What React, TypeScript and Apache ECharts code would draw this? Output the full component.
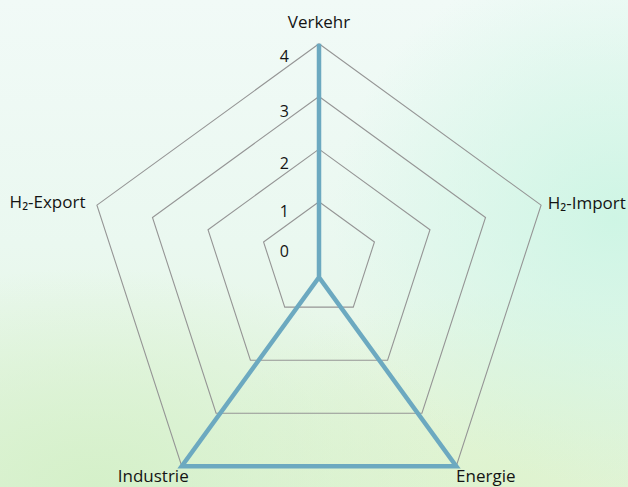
import React, { useEffect, useRef } from 'react';
import * as echarts from 'echarts';

// Indicators listed in the order ECharts lays them out (top, then counter-clockwise)
const indicatorNames = ['Verkehr', 'H₂-Export', 'Industrie', 'Energie', 'H₂-Import'];
const seriesValues = [4, 0, 4, 4, 0];
const axisMax = 4;
const ringValues = [1, 2, 3, 4];
const tickLabels = ['0', '1', '2', '3', '4'];

const FONT = '"Open Sans", Lato, sans-serif';
const CX = 319;
const ringCenterY = (v: number) => 260 + 5.77 * (v - 1);
const ringRadius = (v: number) => 58.3 + 58.4 * (v - 1);

// vertical nudges (px) of the tick labels, index = tick value
const tickNudge = [-5, 4, 5, 2, -4];

const nameStyles: Record<string, any> = {
  Verkehr: { nameGap: 14 },
  'H₂-Export': { nameGap: 12 },
  'H₂-Import': { nameGap: 7 },
  Industrie: { nameGap: 12, nameTextStyle: { align: 'center', padding: [8, 43, 0, 0] } },
  Energie: { nameGap: 12, nameTextStyle: { align: 'center', padding: [8, 0, 0, 45] } },
};

export default function App() {
  const ref = useRef<HTMLDivElement>(null);
  useEffect(() => {
    if (!ref.current) return;
    const chart = echarts.init(ref.current, null, { renderer: 'svg' });

    const ringRadars = ringValues.map((v) => ({
      center: [CX, ringCenterY(v)],
      radius: ringRadius(v),
      startAngle: 90,
      shape: 'polygon',
      splitNumber: 1,
      indicator: indicatorNames.map((n) => ({
        name: n,
        max: v,
        ...(v === axisMax ? nameStyles[n] : {}),
      })),
      axisName: {
        show: v === axisMax,
        color: '#141414',
        fontFamily: FONT,
        fontSize: 17,
        fontWeight: 500,
      },
      splitLine: { show: true, lineStyle: { color: '#959595', width: 1.1 } },
      splitArea: { show: false },
      axisLine: { show: false },
      axisTick: { show: false },
      axisLabel: { show: false },
    }));

    const rich: Record<string, any> = {};
    tickLabels.forEach((_, i) => {
      const d = tickNudge[i];
      rich['t' + i] = {
        color: '#141414',
        fontFamily: FONT,
        fontSize: 16,
        fontWeight: 500,
        padding: d >= 0 ? [2 * d, 0, 0, 0] : [0, 0, -2 * d, 0],
      };
    });

    const labelRadar = {
      center: [CX, 255.8],
      radius: 196.2,
      startAngle: 90,
      shape: 'polygon',
      splitNumber: tickLabels.length - 1,
      indicator: indicatorNames.map((n, i) => ({
        name: n,
        min: 0,
        max: axisMax,
        axisLabel: i === 0
          ? {
              show: true,
              margin: 30,
              color: '#141414',
              fontFamily: FONT,
              fontSize: 16,
              fontWeight: 500,
              formatter: (val: number) => {
                const k = Math.round(val);
                return `{t${k}|${tickLabels[k] ?? String(val)}}`;
              },
              rich,
            }
          : { show: false },
      })),
      axisName: { show: false },
      splitLine: { show: false },
      splitArea: { show: false },
      axisLine: { show: false },
      axisTick: { show: false },
      axisLabel: { show: false },
    };

    chart.setOption({
      animation: false,
      backgroundColor: 'transparent',
      textStyle: { fontFamily: FONT },
      radar: [...ringRadars, labelRadar],
      series: [
        {
          type: 'radar',
          radarIndex: ringValues.length - 1,
          symbol: 'none',
          silent: true,
          lineStyle: { color: '#6ca9c0', width: 4.5, join: 'miter' },
          data: [{ value: seriesValues, name: 'Werte' }],
        },
      ],
    });
    return () => chart.dispose();
  }, []);

  return (
    <div
      ref={ref}
      style={{
        position: 'fixed',
        left: 0,
        top: 0,
        width: 628,
        height: 487,
        background:
          'radial-gradient(ellipse 45% 55% at 98% 45%, rgba(205,245,228,0.95) 0%, rgba(205,245,228,0) 100%),' +
          'radial-gradient(ellipse 60% 45% at 15% 100%, rgba(212,240,200,0.95) 0%, rgba(212,240,200,0) 100%),' +
          'radial-gradient(ellipse 50% 40% at 80% 100%, rgba(222,243,205,0.9) 0%, rgba(222,243,205,0) 100%),' +
          'linear-gradient(180deg, #f1faf7 0%, #eaf8f0 50%, #e2f4dc 100%)',
      }}
    />
  );
}
